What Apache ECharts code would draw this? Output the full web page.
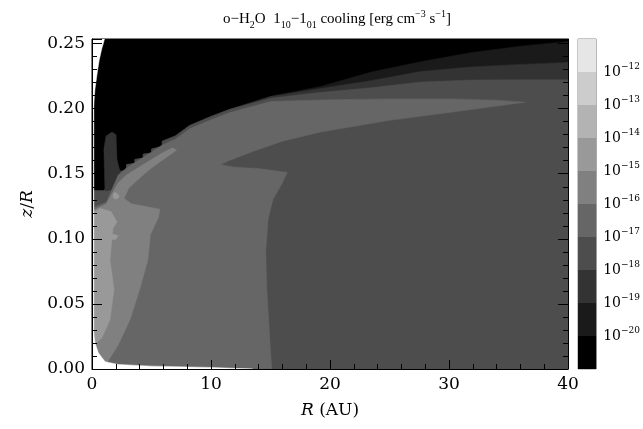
<!DOCTYPE html>
<html>
<head>
<meta charset="utf-8">
<script src="https://cdn.jsdelivr.net/npm/echarts@6/dist/echarts.min.js"></script>
<style>
html,body{margin:0;padding:0;background:#fff}
#chart{width:643px;height:429px}
</style>
</head>
<body>
<div id="chart"></div>
<script>
// axes
const rMax = 40;
const zMax = 0.2535;
// colour bar: decade edges (exponent) and band colours, bottom to top
const levelExp = [-21, -20, -19, -18, -17, -16, -15, -14, -13, -12, -11];
const levelColors = ['#000000', '#1a1a1a', '#333333', '#4d4d4d', '#666666', '#808080', '#999999', '#b3b3b3', '#cccccc', '#e6e6e6'];

// contour edges as [R (AU), z/R]
// staircase under the black region, shared by the upper contours
const edgeLeft = [[0.15, 0.137], [1.0, 0.137], [2.2, 0.152], [2.9, 0.152], [2.9, 0.157], [3.6, 0.158], [3.6, 0.161],
  [4.3, 0.162], [4.3, 0.165], [5.0, 0.166], [5.0, 0.169], [5.9, 0.171], [5.9, 0.175], [7.0, 0.179], [8.2, 0.187],
  [10, 0.194], [11.6, 0.1995]];
const edgeBlack = edgeLeft.concat([[15, 0.2095], [19.2, 0.217], [23.4, 0.228], [27.6, 0.236], [31.8, 0.243], [36, 0.248], [40, 0.2515]]);
const edge19 = edgeLeft.concat([[15, 0.2093], [19.2, 0.2155], [23.4, 0.2215], [27.6, 0.2285], [31.8, 0.232], [36, 0.234], [40, 0.2355]]);
const edge18 = edgeLeft.concat([[15, 0.208], [19.2, 0.2125], [23.4, 0.216], [27.6, 0.2205], [31.8, 0.222], [36, 0.2222], [40, 0.2222]]);

// 1e-17 level: inner disc + tongue + upper wedge
const region17 = [[0.15, 0], [15.1, 0], [14.9, 0.03], [14.7, 0.06], [14.6, 0.09], [14.8, 0.115], [15.2, 0.13], [16.0, 0.143],
  [16.4, 0.151], [14, 0.154], [12, 0.155], [10.8, 0.157], [11.5, 0.160], [13.5, 0.167], [16, 0.175], [19.2, 0.182],
  [25, 0.191], [30, 0.197], [36.4, 0.205], [34, 0.2065], [30, 0.2075], [25, 0.2075], [20, 0.2068], [15, 0.2055],
  [11.6, 0.197], [10, 0.1915], [8.2, 0.1845], [7.0, 0.1765], [5.9, 0.172], [5.0, 0.1665], [4.3, 0.1625], [3.6, 0.1585],
  [2.9, 0.1545], [2.2, 0.149], [1.2, 0.128], [0.15, 0.124]];
// 1e-16 level
const region16 = [[0.15, 0.122], [1.2, 0.127], [2.2, 0.143], [2.9, 0.149], [3.6, 0.153], [4.3, 0.157], [5.0, 0.161],
  [5.9, 0.166], [6.8, 0.170], [7.1, 0.168], [6.0, 0.161], [4.8, 0.153], [3.8, 0.145], [3.1, 0.139], [2.7, 0.131],
  [3.3, 0.127], [4.4, 0.125], [5.7, 0.1227], [5.6, 0.117], [4.9, 0.103], [4.7, 0.084], [4.0, 0.061], [3.2, 0.038],
  [2.2, 0.0185], [1.3, 0.0054], [0.7, 0], [0.15, 0]];
// 1e-15 level: strip along the axis and small spots
const region15 = [[0.08, 0.120], [0.67, 0.1235], [1.6, 0.121], [2.1, 0.113], [1.76, 0.108], [1.51, 0.084], [1.85, 0.061],
  [1.51, 0.0378], [0.84, 0.024], [0.17, 0.0185]];
const spot15a = [[1.85, 0.1355], [2.1, 0.135], [2.3, 0.1325], [2.1, 0.1305], [1.85, 0.131], [1.75, 0.133]];
const spot15b = [[1.4, 0.102], [1.8, 0.1035], [2.2, 0.1025], [2.0, 0.0995], [1.6, 0.0995]];
const spot15c = [[0.4, 0.0905], [0.7, 0.091], [0.8, 0.0885], [0.5, 0.0875]];
// dark pillar near the inner rim (1e-19 level)
const pillar19 = [[1.09, 0.137], [1.0, 0.169], [1.18, 0.179], [1.68, 0.182], [2.02, 0.18], [2.1, 0.161], [2.35, 0.152],
  [2.6, 0.146], [2.18, 0.138]];
// no data
const blankTop = [[0, zMax], [1.05, zMax], [0.95, 0.25], [0.82, 0.246], [0.6, 0.237], [0.48, 0.230], [0.25, 0.215],
  [0.11, 0.200], [0.08, 0.185], [0, 0.18]];
const blankBottom = [[0, 0], [13.5, 0], [10, 0.0012], [5, 0.0022], [2.2, 0.0035], [1.1, 0.0056], [0.53, 0.0124],
  [0.25, 0.02], [0.1, 0.03], [0, 0.032]];
const blankAxis = [[0, 0], [0.15, 0], [0.15, zMax], [0, zMax]];
const fullBox = [[0, 0], [rMax, 0], [rMax, zMax], [0, zMax]];

function below(edge) {
  return [[0, edge[0][1]]].concat(edge, [[rMax, 0], [0, 0]]);
}

const layers = [
  [fullBox, levelColors[0]],
  [below(edgeBlack), levelColors[1]],
  [below(edge19), levelColors[2]],
  [below(edge18), levelColors[3]],
  [pillar19, levelColors[2]],
  [region17, levelColors[4]],
  [region16, levelColors[5]],
  [region15, levelColors[6]],
  [spot15a, levelColors[6]],
  [spot15b, levelColors[6]],
  [spot15c, levelColors[6]],
  [blankTop, '#ffffff'],
  [blankBottom, '#ffffff'],
  [blankAxis, '#ffffff']
];

const serif = 'Liberation Serif';
const tickFont = 'DejaVu Serif';
const myChart = echarts.init(document.getElementById('chart'));

const series = layers.map(([pts, color]) => ({
  type: 'custom',
  xAxisIndex: 0,
  yAxisIndex: 0,
  silent: true,
  clip: true,
  data: pts,
  renderItem: (params, api) => {
    if (params.dataIndex !== 0) return null;
    return {
      type: 'polygon',
      shape: { points: pts.map(p => api.coord(p)) },
      style: { fill: color, stroke: color, lineWidth: 0.5 }
    };
  }
}));

// colour bar bands
series.push({
  type: 'custom',
  xAxisIndex: 1,
  yAxisIndex: 2,
  silent: true,
  data: levelColors.map((c, i) => [levelExp[i], levelExp[i + 1]]),
  renderItem: (params, api) => {
    const lo = api.coord([0, api.value(0)]);
    const hi = api.coord([1, api.value(1)]);
    return {
      type: 'rect',
      shape: { x: lo[0], y: hi[1], width: hi[0] - lo[0], height: lo[1] - hi[1] },
      style: { fill: levelColors[params.dataIndex] }
    };
  }
});

const italic = { fontFamily: tickFont, fontStyle: 'italic', fontSize: 17, color: '#000' };

myChart.setOption({
  animation: false,
  textStyle: { fontFamily: serif },
  title: {
    text: 'o\u2212H{sub|2}O  1{sub|10}\u22121{sub|01} cooling [erg cm{sup|\u22123} s{sup|\u22121}]',
    left: 332,
    top: 4,
    textAlign: 'center',
    textStyle: {
      fontFamily: serif, fontSize: 15, fontWeight: 'normal', color: '#000', lineHeight: 21,
      rich: {
        sub: { fontFamily: serif, fontSize: 10, lineHeight: 12, verticalAlign: 'bottom', color: '#000' },
        sup: { fontFamily: serif, fontSize: 10, lineHeight: 10, verticalAlign: 'top', color: '#000' }
      }
    }
  },
  grid: [
    { left: 92, top: 39, width: 476, height: 330, show: true, borderColor: '#000', borderWidth: 1, backgroundColor: 'transparent' },
    { left: 578, top: 39, width: 19, height: 330, show: true, borderColor: '#8a8a8a', borderWidth: 1 }
  ],
  xAxis: [
    {
      gridIndex: 0, type: 'value', min: 0, max: rMax, interval: 10, z: 10,
      name: '{i|R} (AU)', nameLocation: 'middle', nameGap: 33,
      nameTextStyle: { fontFamily: tickFont, fontSize: 17, color: '#000', rich: { i: italic } },
      axisLine: { show: true, lineStyle: { color: '#000' } },
      axisTick: { show: true, inside: true, length: 9, lineStyle: { color: '#000' } },
      minorTick: { show: true, splitNumber: 5, length: 5, lineStyle: { color: '#000' } },
      axisLabel: { fontFamily: tickFont, fontSize: 17, color: '#000', margin: 7 },
      splitLine: { show: false }
    },
    { gridIndex: 1, type: 'value', min: 0, max: 1, show: false }
  ],
  yAxis: [
    {
      gridIndex: 0, type: 'value', min: 0, max: zMax, interval: 0.05, z: 10,
      name: '{i|z}/{i|R}', nameLocation: 'middle', nameGap: 56, nameRotate: 90,
      nameTextStyle: { fontFamily: tickFont, fontSize: 17, color: '#000', rich: { i: italic } },
      axisLine: { show: true, lineStyle: { color: '#000' } },
      axisTick: { show: true, inside: true, length: 10, lineStyle: { color: '#000' } },
      minorTick: { show: true, splitNumber: 5, length: 5, lineStyle: { color: '#000' } },
      axisLabel: { fontFamily: tickFont, fontSize: 17, color: '#000', margin: 7, formatter: v => v.toFixed(2), showMaxLabel: false },
      splitLine: { show: false }
    },
    {
      gridIndex: 0, type: 'value', position: 'right', min: 0, max: zMax, interval: 0.05, z: 10,
      axisLine: { show: true, lineStyle: { color: '#000' } },
      axisTick: { show: true, inside: true, length: 10, lineStyle: { color: '#000' } },
      minorTick: { show: true, splitNumber: 5, length: 5, lineStyle: { color: '#000' } },
      axisLabel: { show: false },
      splitLine: { show: false }
    },
    {
      gridIndex: 1, type: 'value', position: 'right', min: levelExp[0], max: levelExp[levelExp.length - 1], interval: 1,
      axisLine: { show: false },
      axisTick: { show: false },
      splitLine: { show: false },
      axisLabel: {
        showMinLabel: false, showMaxLabel: false, margin: 7,
        fontFamily: tickFont, fontSize: 14, color: '#000', lineHeight: 20,
        formatter: v => '10{s|\u2212' + (-v) + '}',
        rich: { s: { fontFamily: tickFont, fontSize: 9, lineHeight: 10, verticalAlign: 'top', color: '#000' } }
      }
    }
  ],
  series: series
});
</script>
</body>
</html>
